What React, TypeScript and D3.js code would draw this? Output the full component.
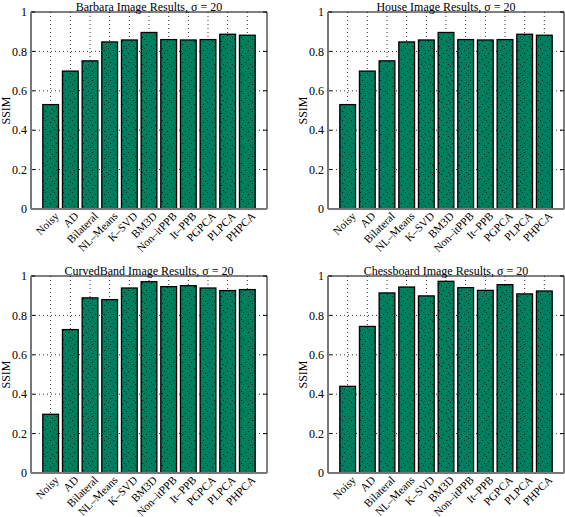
import React from "react";
import * as d3 from "d3";

const methods = ["Noisy","AD","Bilateral","NL\u2013Means","K\u2013SVD","BM3D","Non\u2013itPPB","It\u2013PPB","PGPCA","PLPCA","PHPCA"];
const barbaraValues = [0.53,0.70,0.752,0.848,0.858,0.896,0.860,0.858,0.860,0.887,0.882];
const houseValues = [0.53,0.70,0.752,0.848,0.858,0.896,0.860,0.858,0.860,0.887,0.882];
const curvedBandValues = [0.298,0.728,0.889,0.880,0.939,0.971,0.946,0.951,0.939,0.926,0.931];
const chessboardValues = [0.44,0.744,0.914,0.944,0.899,0.973,0.941,0.927,0.956,0.909,0.924];
const yTicks = [0,0.2,0.4,0.6,0.8,1];
const panelTitles = ["Barbara Image Results, \u03c3 = 20","House Image Results, \u03c3 = 20","CurvedBand Image Results, \u03c3 = 20","Chessboard Image Results, \u03c3 = 20"];

const FONT = "'Liberation Serif', 'DejaVu Serif', serif";
const FS = 12;
const FSX = 11.2;
const W = 236, H = 197;
const panelPos = [[31,12],[328,12],[31,276],[328,276]];

function Panel({ x0, y0, title, values, idx }: { x0: number; y0: number; title: string; values: number[]; idx: number }) {
  const xs = d3.scaleLinear().domain([0, 12]).range([0, W]);
  const ys = d3.scaleLinear().domain([0, 1]).range([H, 0]);
  const bw = xs(0.8) - xs(0);
  return (
    <g transform={`translate(${x0},${y0})`}>
      <rect x={0} y={0} width={W} height={H} fill="#fff" />
      {yTicks.slice(1, -1).map((t) => (
        <line key={t} x1={0} x2={W} y1={ys(t)} y2={ys(t)} stroke="#333" strokeWidth={1} strokeDasharray="1,3" />
      ))}
      {methods.map((m, i) => (
        <line key={m} x1={xs(i + 1)} x2={xs(i + 1)} y1={0} y2={H} stroke="#333" strokeWidth={1} strokeDasharray="1,3" />
      ))}
      {values.map((v, i) => (
        <g key={i}>
          <rect x={xs(i + 1) - bw / 2} y={ys(v)} width={bw} height={H - ys(v)} fill="#007f5f" />
          <rect x={xs(i + 1) - bw / 2} y={ys(v)} width={bw} height={H - ys(v)} fill={`url(#dots${idx})`} stroke="#000" strokeWidth={1.3} />
        </g>
      ))}
      {yTicks.map((t) => (
        <g key={t}>
          <line x1={0} x2={4} y1={ys(t)} y2={ys(t)} stroke="#000" />
          <line x1={W - 4} x2={W} y1={ys(t)} y2={ys(t)} stroke="#000" />
          <text x={-4} y={ys(t)} dy="0.35em" textAnchor="end" fontFamily={FONT} fontSize={FS}>{d3.format("~g")(t)}</text>
        </g>
      ))}
      <line x1={0} x2={W} y1={0} y2={0} stroke="#000" strokeWidth={1} />
      <line x1={W} x2={W} y1={0} y2={H} stroke="#000" strokeWidth={1} />
      <line x1={0} x2={0} y1={0} y2={H} stroke="#777" strokeWidth={2} />
      <line x1={0} x2={W} y1={H} y2={H} stroke="#777" strokeWidth={2} />
      <text x={W / 2} y={-1.5} textAnchor="middle" fontFamily={FONT} fontSize={FS}>{title}</text>
      <text transform={`translate(-21,${H / 2}) rotate(-90)`} textAnchor="middle" fontFamily={FONT} fontSize={FS}>SSIM</text>
      {methods.map((m, i) => (
        <text key={m} transform={`translate(${xs(i + 1) + 6},${H + 5}) rotate(-45)`} textAnchor="end" dy="0.35em" fontFamily={FONT} fontSize={FSX}>{m}</text>
      ))}
    </g>
  );
}

export default function App() {
  const data = [barbaraValues, houseValues, curvedBandValues, chessboardValues];
  return (
    <svg width={565} height={517} style={{ position: "absolute", left: 0, top: 0, background: "#fff" }}>
      <defs>
        {data.map((_, k) => (
          <pattern key={k} id={`dots${k}`} width={9} height={9} patternUnits="userSpaceOnUse">
            <rect x={1} y={2} width={1} height={1} fill="#022" />
            <rect x={5} y={0} width={1} height={1} fill="#022" />
            <rect x={7} y={5} width={1} height={1} fill="#022" />
            <rect x={3} y={7} width={1} height={1} fill="#022" />
          </pattern>
        ))}
      </defs>
      <rect width={565} height={517} fill="#fff" />
      {data.map((vals, k) => (
        <Panel key={k} idx={k} x0={panelPos[k][0]} y0={panelPos[k][1]} title={panelTitles[k]} values={vals} />
      ))}
    </svg>
  );
}
